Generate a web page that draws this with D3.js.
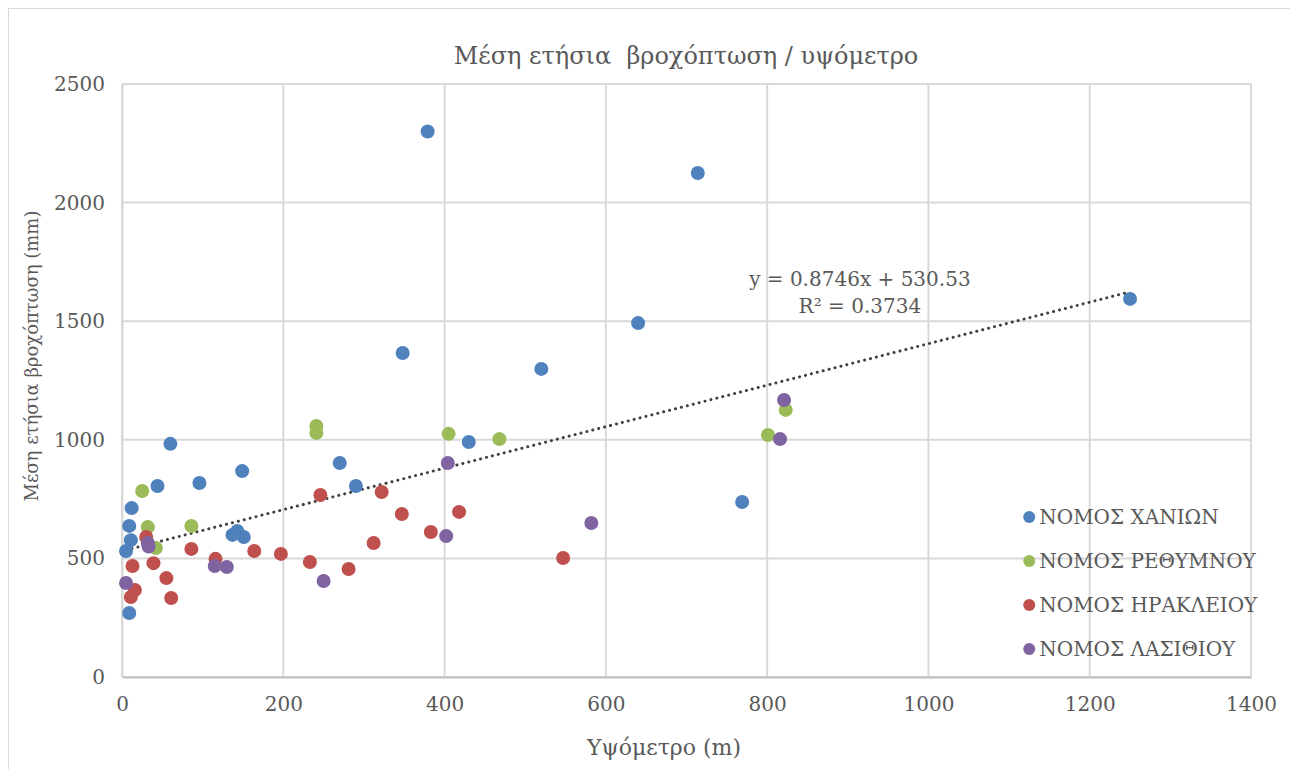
<!DOCTYPE html>
<html>
<head>
<meta charset="utf-8">
<script src="https://cdn.jsdelivr.net/npm/d3@7"></script>
<style>
  body { margin: 0; background: #fff; }
  svg text { font-family: "DejaVu Serif", "Liberation Serif", serif; fill: #595959; white-space: pre; }
</style>
</head>
<body>
<div id="chart"></div>
<script>
// series names and colours (legend order)
const seriesNames = ["ΝΟΜΟΣ ΧΑΝΙΩΝ", "ΝΟΜΟΣ ΡΕΘΥΜΝΟΥ", "ΝΟΜΟΣ ΗΡΑΚΛΕΙΟΥ", "ΝΟΜΟΣ ΛΑΣΙΘΙΟΥ"];
const seriesColors = ["#4F81BD", "#9BBB59", "#C0504D", "#8064A2"];

// [altitude m, rainfall mm]
const chania = [
  [379, 2300], [714, 2125], [1250, 1594], [640, 1492], [348, 1366], [520, 1299],
  [60, 983], [430, 991], [270, 902], [149, 868], [96, 818], [44, 805], [290, 805],
  [12, 712], [9, 637], [769, 738], [11, 577], [5, 531], [137, 599], [143, 616],
  [151, 590], [9, 270]
];
const rethymno = [
  [25, 784], [32, 632], [42, 544], [86, 637], [241, 1058], [241, 1029],
  [405, 1025], [468, 1003], [801, 1020], [823, 1126]
];
const heraklion = [
  [30, 590], [13, 468], [39, 480], [86, 540], [55, 417], [16, 367], [11, 337],
  [61, 333], [116, 498], [164, 531], [197, 519], [233, 485], [246, 767], [281, 455],
  [312, 565], [322, 780], [347, 687], [383, 611], [418, 696], [547, 502]
];
const lasithi = [
  [32, 565], [33, 550], [5, 396], [115, 468], [130, 464], [250, 405],
  [402, 594], [404, 902], [582, 649], [821, 1168], [816, 1003]
];
const seriesData = [chania, rethymno, heraklion, lasithi];

// axis ticks
const xTicks = [0, 200, 400, 600, 800, 1000, 1200, 1400];
const yTicks = [0, 500, 1000, 1500, 2000, 2500];

// linear trendline (from the chart label)
const trendSlope = 0.8746;
const trendIntercept = 530.53;
const trendLabel = ["y = 0.8746x + 530.53", "R² = 0.3734"];

const titleText = "Μέση ετήσια  βροχόπτωση / υψόμετρο";
const xTitle = "Υψόμετρο (m)";
const yTitle = "Μέση ετήσια βροχόπτωση (mm)";

const W = 1290, H = 769;
const margin = { top: 84, right: 39, bottom: 92, left: 122 };
const width = W - margin.left - margin.right;
const height = H - margin.top - margin.bottom;

const svg = d3.select("#chart").append("svg")
  .attr("width", W).attr("height", H);

// chart border
svg.append("rect")
  .attr("x", 8.5).attr("y", 8.5)
  .attr("width", W + 20).attr("height", H + 20)
  .attr("fill", "none").attr("stroke", "#d9d9d9");

const g = svg.append("g").attr("transform", `translate(${margin.left}, ${margin.top})`);

const x = d3.scaleLinear().domain([0, 1400]).range([0, width]);
const y = d3.scaleLinear().domain([0, 2500]).range([height, 0]);

// gridlines
g.append("g")
  .selectAll("line.vgrid")
  .data(xTicks)
  .enter().append("line")
  .attr("x1", d => x(d)).attr("x2", d => x(d))
  .attr("y1", 0).attr("y2", height)
  .attr("stroke", "#d9d9d9").attr("stroke-width", 2);

g.append("g")
  .selectAll("line.hgrid")
  .data(yTicks)
  .enter().append("line")
  .attr("x1", 0).attr("x2", width)
  .attr("y1", d => y(d)).attr("y2", d => y(d))
  .attr("stroke", "#d9d9d9").attr("stroke-width", 2);

// axes
const xAxis = g.append("g")
  .attr("transform", `translate(0, ${height})`)
  .call(d3.axisBottom(x).tickValues(xTicks).tickFormat(d3.format("d")).tickSize(0).tickPadding(20));
xAxis.attr("font-family", null).attr("font-size", null);
xAxis.select(".domain").attr("stroke", "#bfbfbf").attr("stroke-width", 2);
xAxis.selectAll("text").attr("font-size", "20px").attr("fill", "#595959");

const yAxis = g.append("g")
  .call(d3.axisLeft(y).tickValues(yTicks).tickFormat(d3.format("d")).tickSize(0).tickPadding(17));
yAxis.attr("font-family", null).attr("font-size", null);
yAxis.select(".domain").attr("stroke", "#d9d9d9").attr("stroke-width", 2);
yAxis.selectAll("text").attr("font-size", "20px").attr("fill", "#595959");

// trendline across the data range
const allX = seriesData.flat().map(d => d[0]);
const tx = d3.extent(allX);
g.append("line")
  .attr("x1", x(tx[0])).attr("y1", y(trendSlope * tx[0] + trendIntercept))
  .attr("x2", x(tx[1])).attr("y2", y(trendSlope * tx[1] + trendIntercept))
  .attr("stroke", "#404040").attr("stroke-width", 3)
  .attr("stroke-linecap", "round").attr("stroke-dasharray", "0.1 6");

// points
seriesData.forEach((data, i) => {
  g.append("g")
    .selectAll("circle")
    .data(data)
    .enter().append("circle")
    .attr("cx", d => x(d[0]))
    .attr("cy", d => y(d[1]))
    .attr("r", 7)
    .attr("fill", seriesColors[i]);
});

// trendline label
g.append("g")
  .selectAll("text")
  .data(trendLabel)
  .enter().append("text")
  .attr("x", x(915))
  .attr("y", (d, i) => y(1650) + i * 27)
  .attr("text-anchor", "middle")
  .attr("font-size", "20px")
  .text(d => d);

// legend
const legend = g.append("g").attr("transform", `translate(${x(1125)}, ${y(675)})`);
seriesNames.forEach((name, i) => {
  const row = legend.append("g").attr("transform", `translate(0, ${i * 44})`);
  row.append("circle").attr("cx", 0).attr("cy", 0).attr("r", 6).attr("fill", seriesColors[i]);
  row.append("text").attr("x", 10).attr("y", 7).attr("font-size", "20px").text(name);
});

// titles
svg.append("text")
  .attr("x", 686).attr("y", 64)
  .attr("text-anchor", "middle").attr("font-size", "24px")
  .text(titleText);

svg.append("text")
  .attr("x", 664).attr("y", 755)
  .attr("text-anchor", "middle").attr("font-size", "22px")
  .text(xTitle);

svg.append("text")
  .attr("transform", `translate(38, 356) rotate(-90)`)
  .attr("text-anchor", "middle").attr("font-size", "18px")
  .text(yTitle);
</script>
</body>
</html>
